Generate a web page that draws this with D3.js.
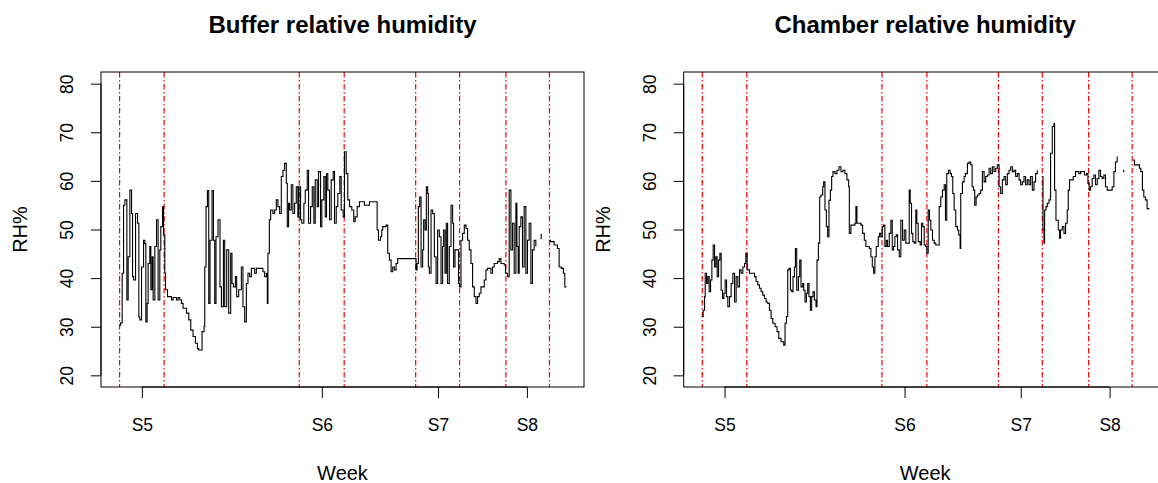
<!DOCTYPE html>
<html>
<head>
<meta charset="utf-8">
<script src="https://cdn.jsdelivr.net/npm/d3@7"></script>
<style>
  html, body { margin: 0; padding: 0; background: #fff; }
  svg { display: block; font-family: "Liberation Sans", Arial, sans-serif; }
</style>
</head>
<body>
<svg id="chart" width="1158" height="483"></svg>
<script>
// Observation index (hourly record position) and relative humidity (%)
const bufferRH = [
  [0.7,30.3],[1.7,30.8],[3.3,41],[4.7,55],[6,56.1],[8,35.5],[9.3,44.4],[11,58.1],[12.7,53.3],[13.7,40.3],
  [14.7,39.6],[16.7,53.3],[18.7,51.3],[20,32],[21,31.4],[22.7,42.3],[24.7,47.8],[26,47.1],[27,31],[28.3,34.8],
  [29.3,43],[31,46.5],[32,37.6],[33.3,44.4],[34.3,35.5],[36,46.5],[37.7,52],[39.3,35.5],[41,45.8],[42,50.6],
  [43.7,54.7],[44.7,48.9],[46,41],[46.7,37.6],[48.7,36.2],[52.7,35.5],[54.3,36],[57.7,35.5],[59.3,36],[61,35.5],
  [62.7,34.8],[64.3,33.8],[67.7,32.8],[70,31.4],[72,29.3],[74.3,28],[76.7,26.6],[78.7,25.5],[80,25.2],[83.3,29],
  [85.3,30],[86,42.3],[87.3,54.7],[88.7,58],[90,34.8],[91.3,47.8],[93.3,58],[94.7,47.8],[96,34.8],[97.3,48.5],
  [99.3,52],[101.3,38.2],[102.7,34.1],[104.7,47.8],[106,34.1],[108,45.8],[110,32.8],[112,45.1],[113.3,38.9],[114.7,38.2],
  [116.7,40.3],[118,36.2],[120,37.6],[122.7,42.3],[124.3,34.1],[126,31],[127.7,38.9],[129.3,41],[131,40.3],[132.7,42],
  [136,41],[137.7,42],[144.3,41.3],[146,40.3],[147.7,41],[148.7,34.8],[149.3,45.1],[150.7,52],[152,54],[154.3,53.3],
  [156,54],[157.7,56.1],[159.3,54.7],[161,53.3],[162.7,60.9],[164.3,62.2],[166,63.6],[167.7,59.5],[168.7,50.6],[170,55.4],
  [171,54],[172.7,59.2],[174.3,53.3],[176,55.4],[177.7,58.8],[179.3,52.6],[180.3,58.8],[182,52],[183.3,51.3],[185.3,55.4],
  [186.7,58.1],[188.7,62.2],[190,51.3],[192,54.7],[193.7,58.8],[195.3,51.3],[196.7,60.2],[198.7,54.7],[200,61.9],[202,50.6],
  [203.3,56.1],[205.3,60.9],[206.7,52.6],[208,61.5],[209.3,58.1],[211,52],[212.7,60.2],[214.7,61.9],[216,51.3],[217.7,54.7],
  [219.3,57.4],[221.3,60.9],[222.7,54],[224.7,52.6],[226,66],[227.7,61.5],[229.3,56.1],[231,54.7],[233.3,54],[235.3,51.6],
  [236.7,52.6],[238.7,54.7],[241,55.7],[246,55],[251,55.7],[258.7,49.9],[260,47.8],[262,48.5],[263.3,49.9],[264.3,50.6],
  [267.7,50.9],[269.3,45.1],[271,43.7],[272.7,41.3],[274.3,42.3],[276,41.7],[277.7,43],[279.3,44],[297.7,41.7],[298.7,43],
  [300,54.7],[301.3,56.7],[302.7,42.3],[304.3,45.8],[305.3,52],[306.7,49.9],[308,58.8],[309.3,57.4],[310,42.3],[311,41],
  [312.7,54],[314.3,53.3],[316,44.4],[317.7,38.9],[319.3,49.9],[321,48.5],[322.7,38.9],[324.3,46.5],[325.3,49.9],[326.7,41],
  [328,51.3],[329.3,38.9],[331,46.5],[332.7,55],[334.3,51.3],[335.3,42.3],[336.7,45.8],[340.3,38.9],[341.3,38.2],[342.7,47.8],
  [344.3,49.2],[346,50.9],[347.7,50.2],[349.3,47.8],[351,45.8],[352.7,43],[354.3,38.2],[356,36.2],[357.7,34.8],[359.3,36.2],
  [361,36.9],[362.7,38.2],[366,39.6],[367.7,41.7],[369.3,42],[372.7,41],[374.3,42.3],[376,43],[379.3,43.4],[381,44],
  [382.7,43],[386,42.7],[387.3,41],[389.3,40.3],[391,58.1],[392.7,45.8],[394.3,51.3],[396,41],[397.7,55.4],[398.7,46.5],
  [400,41],[401,50.6],[402.7,52.6],[404.3,42.3],[406,54.7],[407.7,41],[409.3,47.8],[411,51.3],[412.7,38.9],[414.3,45.8],
  [416,47.8],[417.7,46.5],[418.5,null],[422.5,49],[423,48],[423.5,null],
  [431,47.8],[432.3,47.5],[436,46.8],[439.3,46.1],[441,42.3],[443.3,42],[445.3,41],[446.7,38.2],[448.3,38.2]
];

const chamberRH = [
  [0.3,32.1],[1.6,33.4],[3,36.2],[3.6,41],[5,38.9],[6.3,40.3],[7.6,37.2],[9,39.6],[10.3,43.7],[11.6,46.8],
  [13,42.3],[14.3,44.4],[15.6,40.3],[17,43.7],[18.3,45.1],[19.6,37.5],[21,35.8],[22.3,36.9],[23.6,39.6],[25,36.2],
  [26.3,34.1],[28,36.2],[29.6,38.9],[31.3,41],[33,35.1],[34.6,40.3],[36.3,38.2],[38,41.7],[39.6,41],[41.3,42.3],
  [43,43],[44.3,45.1],[45.6,41.7],[48,41],[53,40.3],[54.6,39.3],[56.3,38.6],[58,37.9],[59.6,37.2],[61.3,36.5],
  [63,35.8],[64.6,35.1],[66.3,34.8],[68,33.4],[69.6,31.7],[71.3,30.7],[73.6,30],[75.6,29],[77.3,27.6],[79.6,26.9],
  [82.3,26.2],[83.6,30.7],[85,32.1],[86.3,41.7],[87.6,42],[89,37.5],[90.3,37.2],[91.6,40.3],[93,42.3],[94,46.1],
  [95.3,37.5],[97,40.3],[98.3,43.7],[99.6,38.2],[101.3,38.9],[102.3,37.5],[103.6,35.1],[105,36.9],[106.3,38.9],[107.6,36.2],
  [109,33.4],[110.3,36.2],[111.6,37.2],[113,35.5],[114.6,34.1],[115.6,43.7],[117,47.2],[118.3,56.7],[119.6,57.1],[121.3,58.8],
  [122.3,59.8],[123.6,54],[125,50.6],[126.3,48.5],[127.6,56],[129,58.1],[130.3,60.9],[131.6,61.9],[133.6,61.5],[135.6,62.2],
  [137.6,62.9],[139.6,61.9],[141.6,62.2],[143.6,61.5],[145.6,60.2],[147.3,58.8],[148,49.2],[149.6,50.9],[153.6,51.3],[154.6,54.7],
  [155.6,51.3],[159.6,50.9],[161.3,49.2],[163,47.8],[164.6,46.5],[168,46.1],[169.6,44.4],[171,42.3],[172.3,41],[173.6,44.4],
  [175,46.5],[177,48.5],[178.3,49.2],[179.6,48.5],[181,50.6],[182.3,50.9],[183.6,46.5],[185,47.8],[186.3,46.5],[188,49.2],
  [189.6,51.9],[191,45.8],[192.3,46.5],[193.6,48.5],[195,48.9],[196.3,45.8],[198,44.4],[199.6,51.9],[201.3,47.8],[203,49.9],
  [204.6,47.2],[208,58.1],[209,55.4],[210.3,49.2],[211.6,47.5],[213,47.2],[214.6,54],[215.6,51.3],[217,47.5],[219,46.8],
  [220.3,51.3],[221.6,50.6],[223,46.8],[224.6,46.5],[225.6,45.1],[227,54],[228.3,51.9],[229.6,49.9],[231.3,47.8],[233,47.2],
  [234.6,46.8],[238,54.7],[239.6,56.7],[241.3,58.1],[243,59.2],[244.3,51.9],[245.6,61.5],[247.3,62.2],[249,61.5],[250.3,60.9],
  [251.6,57.4],[253,54],[254.6,50.6],[256.3,49.9],[257.6,48.9],[259,46.1],[259.6,57.4],[261.3,59.8],[263,60.9],[264.3,61.5],
  [266.3,63.6],[268,63.9],[269.6,63.3],[271,58.8],[272.3,58.1],[273.6,55],[275,56.7],[276.3,57.1],[278,57.4],[279.6,58.1],
  [281.3,61.9],[283,59.8],[284.6,60.9],[286.3,61.2],[288,62.6],[289.6,61.5],[291.3,62.9],[293,61.9],[294.6,62.6],[296.3,63.3],
  [298,58.8],[299.6,57.4],[301.3,60.2],[303,60.9],[304.6,59.2],[306.3,61.5],[308,62.2],[309.6,62.9],[311.3,61.9],[313,62.2],
  [314.6,60.9],[316.3,61.5],[318,60.2],[319.6,59.2],[321.3,59.8],[323,60.9],[324.6,59.2],[326.3,60.2],[328,59.2],[329.6,60.9],
  [331.3,58.1],[333,59.8],[334.6,61.5],[336.3,62.2],[337.5,null],
  [341.3,60.9],[342,50],[343,47.2],[343.6,54],[345,54.7],[346.3,55.4],[348,56.1],[349.6,65.7],[351.3,71.2],[353,71.8],
  [353.6,58.1],[355,51.9],[357.3,49.9],[358.6,48.2],[359.6,49.9],[361.3,50.6],[363,49.2],[364.6,51.3],[366.3,54],[367.3,58.1],
  [368.6,60.2],[372.3,60.9],[374.6,61.9],[378,61.5],[379.6,61.9],[383.6,61.2],[385.6,61.5],[387,59.5],[388.3,58.1],[389.6,58.8],
  [391.3,60.5],[393,61.2],[394.6,59.2],[396.3,60.5],[398,62.2],[399.6,60.9],[401.3,60.5],[403,61.2],[404.6,58.8],[406.3,58.1],
  [411.3,58.8],[413,61.9],[414.6,63.9],[416.3,65],[417,null],[422.3,62.2],[422.9,61.8],[423.4,null],
  [432.3,64.3],[433.6,63.3],[436,63.3],[438.6,62.6],[440,61.9],[441.6,58.1],[443,56.7],[444.6,56.1],[446.3,54.3],[448,54.1]
];

// Start and end of each weekly session, and the week tick positions
const sessionMarks = [0.7, 45.3, 180.7, 225.7, 297.3, 341.3, 387.7, 431.3];
const weekTicks = [23, 203.3, 319.7, 408.7];
const weekLabels = ["S5", "S6", "S7", "S8"];
const rhTicks = [20, 30, 40, 50, 60, 70, 80];

const panels = [
  { title: "Buffer relative humidity", data: bufferRH, left: 101 },
  { title: "Chamber relative humidity", data: chamberRH, left: 683.7 }
];

const svg = d3.select("#chart");
const plotW = 483, plotTop = 72, plotBottom = 387;

// axis ranges padded by 4% on each side
const xExt = [0, 448];
const xPad = (xExt[1] - xExt[0]) * 0.04;
const yExt = [20, 80];
const yPad = (yExt[1] - yExt[0]) * 0.04;

panels.forEach((p, i) => {
  const x = d3.scaleLinear().domain([xExt[0] - xPad, xExt[1] + xPad]).range([p.left, p.left + plotW]);
  const y = d3.scaleLinear().domain([yExt[0] - yPad, yExt[1] + yPad]).range([plotBottom, plotTop]);
  const g = svg.append("g");

  const clipId = "clip" + i;
  svg.append("clipPath").attr("id", clipId)
    .append("rect").attr("x", p.left).attr("y", plotTop).attr("width", plotW).attr("height", plotBottom - plotTop);

  // session boundaries (dot-dash)
  g.append("g").attr("clip-path", `url(#${clipId})`)
    .selectAll("line").data(sessionMarks).join("line")
    .attr("x1", d => x(d)).attr("x2", d => x(d))
    .attr("y1", plotTop).attr("y2", plotBottom)
    .attr("stroke", "#ff0000").attr("stroke-width", 1.2)
    .attr("stroke-dasharray", "5.5,2.5,1.5,2.5");

  // humidity trace
  const line = d3.line()
    .defined(d => d[1] != null)
    .x(d => x(d[0])).y(d => y(d[1]))
    .curve(d3.curveStepAfter);
  g.append("path").datum(p.data)
    .attr("clip-path", `url(#${clipId})`)
    .attr("d", line)
    .attr("fill", "none").attr("stroke", "#000").attr("stroke-width", 1.1);

  // plot frame
  g.append("rect").attr("x", p.left).attr("y", plotTop).attr("width", plotW).attr("height", plotBottom - plotTop)
    .attr("fill", "none").attr("stroke", "#000").attr("stroke-width", 1);

  // y axis
  const yAxis = d3.axisLeft(y).tickValues(rhTicks).tickSize(10).tickPadding(0).tickFormat(d3.format("d"));
  const ya = g.append("g").attr("transform", `translate(${p.left},0)`).call(yAxis);
  ya.select(".domain").attr("d", `M0,${y(rhTicks[0])}V${y(rhTicks[rhTicks.length - 1])}`).attr("stroke", "#000");
  ya.selectAll(".tick line").attr("stroke", "#000");
  ya.selectAll(".tick text")
    .attr("x", null).attr("y", null).attr("dy", null)
    .attr("transform", "translate(-34,0) rotate(-90)")
    .attr("text-anchor", "middle").attr("dominant-baseline", "central")
    .attr("font-size", 17.5).attr("font-family", "Liberation Sans, Arial, sans-serif").attr("fill", "#000");

  // x axis
  const xAxis = d3.axisBottom(x).tickValues(weekTicks).tickSize(11).tickPadding(0)
    .tickFormat((d, k) => weekLabels[k]);
  const xa = g.append("g").attr("transform", `translate(0,${plotBottom})`).call(xAxis);
  xa.select(".domain").attr("d", `M${x(weekTicks[0])},0H${x(weekTicks[weekTicks.length - 1])}`).attr("stroke", "#000");
  xa.selectAll(".tick line").attr("stroke", "#000");
  xa.selectAll(".tick text").attr("y", 38).attr("dy", "0.35em")
    .attr("font-size", 17.5).attr("font-family", "Liberation Sans, Arial, sans-serif").attr("fill", "#000");

  // titles
  const cx = p.left + plotW / 2;
  g.append("text").attr("x", cx).attr("y", 33).attr("text-anchor", "middle")
    .attr("font-size", 24).attr("font-weight", "bold").text(p.title);
  g.append("text").attr("x", cx).attr("y", 473).attr("dy", "0.35em").attr("text-anchor", "middle")
    .attr("font-size", 20).text("Week");
  g.append("text").attr("transform", `translate(${p.left - 81},${(plotTop + plotBottom) / 2}) rotate(-90)`)
    .attr("text-anchor", "middle").attr("dy", "0.35em")
    .attr("font-size", 20).text("RH%");
});
</script>
</body>
</html>
